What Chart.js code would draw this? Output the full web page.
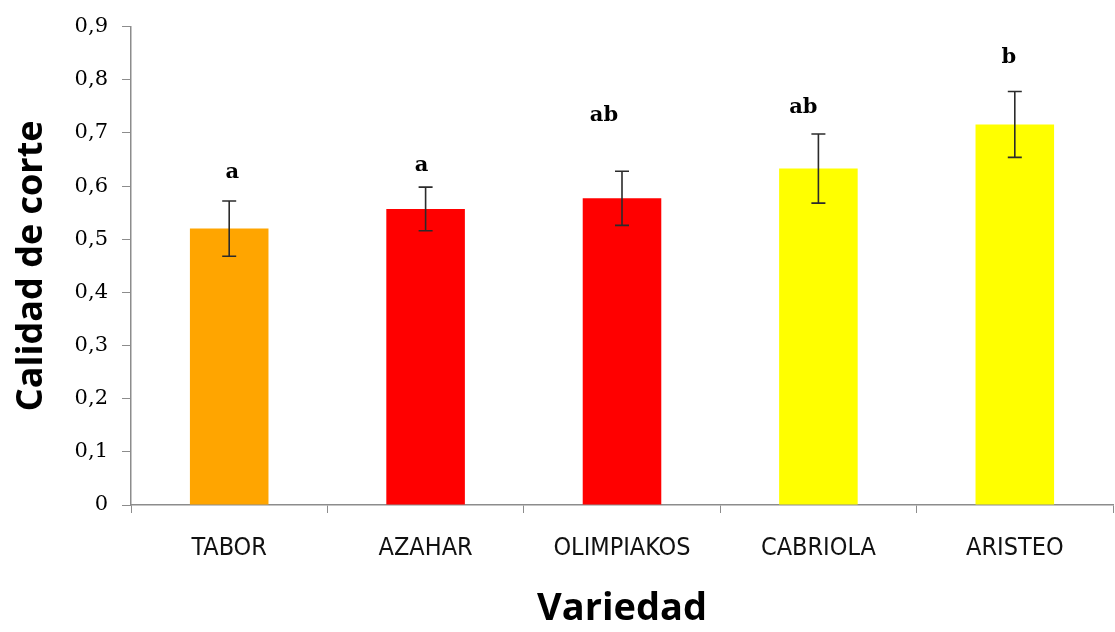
<!DOCTYPE html>
<html>
<head>
<meta charset="utf-8">
<title>Calidad de corte por variedad</title>
<script src="https://cdn.jsdelivr.net/npm/chart.js@4.4.1/dist/chart.umd.min.js"></script>
<style>
  body { margin: 0; background: #fff; }
  #wrap { width: 1115px; height: 632px; }
</style>
</head>
<body>
<div id="wrap"><canvas id="chart" width="1115" height="632"></canvas></div>
<script>
// data
var varieties = ["TABOR", "AZAHAR", "OLIMPIAKOS", "CABRIOLA", "ARISTEO"];
var quality = [0.520, 0.557, 0.577, 0.633, 0.716];
var errors = [0.052, 0.041, 0.051, 0.065, 0.062];
var letters = ["a", "a", "ab", "ab", "b"];
var letterLevel = [0.626, 0.638, 0.733, 0.748, 0.842];
var yTicks = [0, 0.1, 0.2, 0.3, 0.4, 0.5, 0.6, 0.7, 0.8, 0.9];

// styling
var barColors = ["#FFA500", "#FF0000", "#FF0000", "#FFFF00", "#FFFF00"];
var letterShift = [3, -4, -18, -15, -6];
var axisGrey = "#8c8c8c";

var errorBars = {
  id: "errorBars",
  afterDatasetsDraw: function (chart) {
    var ctx = chart.ctx;
    var x = chart.scales.x, y = chart.scales.y;
    ctx.save();
    ctx.strokeStyle = "#2b2b2b";
    ctx.lineWidth = 1.6;
    quality.forEach(function (v, i) {
      var cx = x.getPixelForValue(i);
      var top = y.getPixelForValue(v + errors[i]);
      var bot = y.getPixelForValue(v - errors[i]);
      ctx.beginPath();
      ctx.moveTo(cx, top); ctx.lineTo(cx, bot);
      ctx.moveTo(cx - 7, top); ctx.lineTo(cx + 7, top);
      ctx.moveTo(cx - 7, bot); ctx.lineTo(cx + 7, bot);
      ctx.stroke();
    });
    // significance letters
    ctx.fillStyle = "#000";
    ctx.font = "bold 21px 'DejaVu Serif'";
    ctx.textAlign = "center";
    ctx.textBaseline = "middle";
    letters.forEach(function (t, i) {
      ctx.fillText(t, x.getPixelForValue(i) + letterShift[i], y.getPixelForValue(letterLevel[i]));
    });
    ctx.restore();
  }
};

new Chart(document.getElementById("chart"), {
  type: "bar",
  data: {
    labels: varieties,
    datasets: [{
      data: quality,
      backgroundColor: barColors,
      borderWidth: 0,
      barPercentage: 0.4,
      categoryPercentage: 1
    }]
  },
  options: {
    responsive: false,
    animation: false,
    layout: { padding: { top: 25, right: 2, bottom: 0, left: 0 } },
    plugins: { legend: { display: false }, tooltip: { enabled: false } },
    scales: {
      x: {
        offset: true,
        grid: { offset: true, drawOnChartArea: false, tickLength: 8, color: axisGrey },
        border: { color: axisGrey, width: 1.5 },
        ticks: {
          color: "#111",
          padding: 20,
          font: { family: "'Liberation Sans Narrow', 'DejaVu Sans Condensed', sans-serif", size: 25 }
        },
        title: {
          display: true,
          text: "Variedad",
          color: "#000",
          padding: { top: 0, bottom: 0 },
          font: { family: "'Open Sans'", size: 38, weight: "bold" }
        },
        afterFit: function (scale) { scale.height = 127; }
      },
      y: {
        min: 0,
        max: 0.9,
        afterBuildTicks: function (scale) {
          scale.ticks = yTicks.map(function (v) { return { value: v }; });
        },
        grid: { drawOnChartArea: false, tickLength: 9, color: axisGrey },
        border: { color: axisGrey, width: 1.5 },
        ticks: {
          color: "#000",
          padding: 14,
          font: { family: "'DejaVu Serif'", size: 21 },
          callback: function (v) { return v === 0 ? "0" : v.toFixed(1).replace(".", ","); }
        },
        title: {
          display: true,
          text: "Calidad de corte",
          color: "#000",
          padding: { top: 10, bottom: 0 },
          font: { family: "'Open Sans'", size: 36, weight: "bold" }
        },
        afterFit: function (scale) { scale.width = 131; }
      }
    }
  },
  plugins: [errorBars]
});
</script>
</body>
</html>
